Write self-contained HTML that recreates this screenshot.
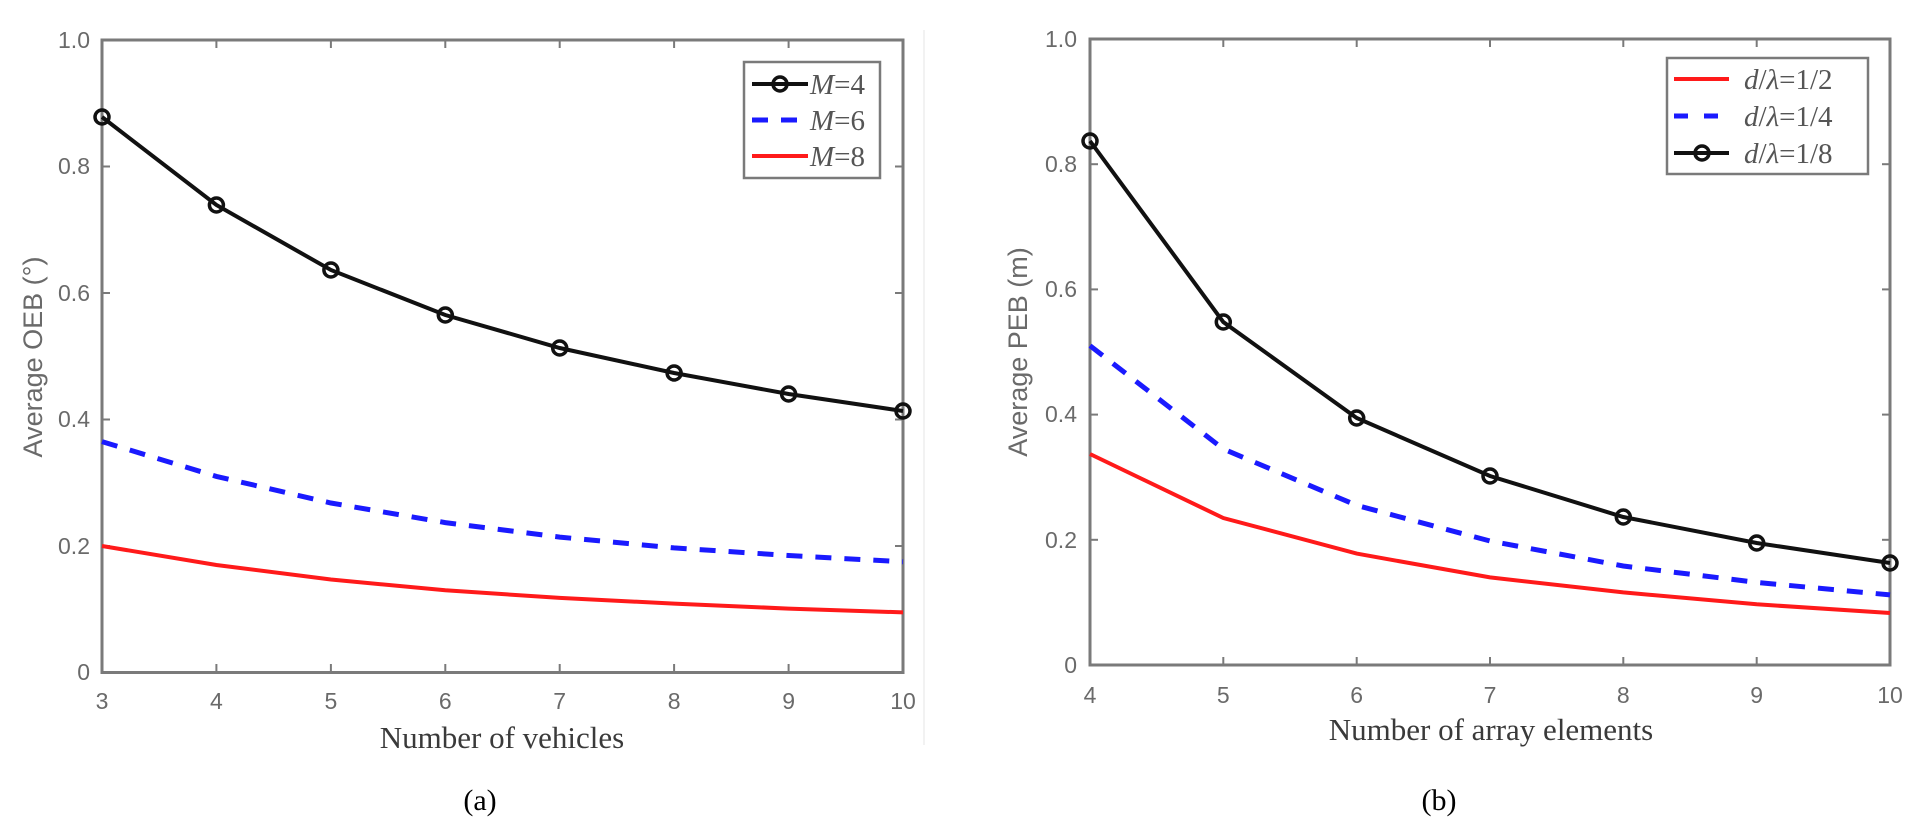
<!DOCTYPE html>
<html><head><meta charset="utf-8"><style>
body{margin:0;background:#fff;}
svg{display:block}
.t{font-family:"Liberation Sans",sans-serif;font-size:23px;fill:#6a6a6a}
.yl{font-family:"Liberation Sans",sans-serif;font-size:27px;fill:#6a6a6a}
.xl{font-family:"Liberation Serif",serif;font-size:31px;fill:#3a3a3a}
.cap{font-family:"Liberation Serif",serif;font-size:30px;fill:#000}
.lg{font-family:"Liberation Serif",serif;font-size:29px;fill:#555}
</style></head><body>
<svg width="1923" height="832" viewBox="0 0 1923 832" xmlns="http://www.w3.org/2000/svg">
<rect width="1923" height="832" fill="#fff"/>
<line x1="924" y1="30" x2="924" y2="745" stroke="#f2f2f2" stroke-width="2"/>
<g>
<rect x="102" y="40" width="801" height="632.5" fill="none" stroke="#7a7a7a" stroke-width="3"/>
<g stroke="#7a7a7a" stroke-width="2">
<line x1="216.4" y1="672" x2="216.4" y2="664"/><line x1="330.9" y1="672" x2="330.9" y2="664"/><line x1="445.3" y1="672" x2="445.3" y2="664"/><line x1="559.7" y1="672" x2="559.7" y2="664"/><line x1="674.1" y1="672" x2="674.1" y2="664"/><line x1="788.6" y1="672" x2="788.6" y2="664"/>
<line x1="216.4" y1="40" x2="216.4" y2="48"/><line x1="330.9" y1="40" x2="330.9" y2="48"/><line x1="445.3" y1="40" x2="445.3" y2="48"/><line x1="559.7" y1="40" x2="559.7" y2="48"/><line x1="674.1" y1="40" x2="674.1" y2="48"/><line x1="788.6" y1="40" x2="788.6" y2="48"/>
<line x1="102" y1="546" x2="110" y2="546"/><line x1="102" y1="419.5" x2="110" y2="419.5"/><line x1="102" y1="293" x2="110" y2="293"/><line x1="102" y1="166.5" x2="110" y2="166.5"/>
<line x1="903" y1="546" x2="895" y2="546"/><line x1="903" y1="419.5" x2="895" y2="419.5"/><line x1="903" y1="293" x2="895" y2="293"/><line x1="903" y1="166.5" x2="895" y2="166.5"/>
</g>
<g class="t" text-anchor="end">
<text x="90" y="680">0</text><text x="90" y="554">0.2</text><text x="90" y="427">0.4</text><text x="90" y="301">0.6</text><text x="90" y="174">0.8</text><text x="90" y="48">1.0</text>
</g>
<g class="t" text-anchor="middle">
<text x="102" y="709">3</text><text x="216.4" y="709">4</text><text x="330.9" y="709">5</text><text x="445.3" y="709">6</text><text x="559.7" y="709">7</text><text x="674.1" y="709">8</text><text x="788.6" y="709">9</text><text x="903" y="709">10</text>
</g>
<text class="yl" transform="translate(42,357) rotate(-90)" text-anchor="middle">Average OEB (°)</text>
<text class="xl" x="502" y="748" text-anchor="middle">Number of vehicles</text>
<polyline fill="none" stroke="#ff1a1a" stroke-width="4" points="102,546 216.4,565 330.9,579.5 445.3,590.3 559.7,597.9 674.1,603.6 788.6,608.6 903,612.4"/>
<polyline fill="none" stroke="#1a1aff" stroke-width="5" stroke-dasharray="16,13" points="102,441.6 216.4,476.4 330.9,503 445.3,522.6 559.7,537.1 674.1,547.9 788.6,555.5 903,561.8"/>
<polyline fill="none" stroke="#111" stroke-width="4" points="102,117 216.4,205 330.9,270 445.3,315 559.7,348 674.1,373 788.6,394 903,411"/>
<g fill="none" stroke="#111" stroke-width="3.5">
<circle cx="102" cy="117" r="7"/><circle cx="216.4" cy="205" r="7"/><circle cx="330.9" cy="270" r="7"/><circle cx="445.3" cy="315" r="7"/><circle cx="559.7" cy="348" r="7"/><circle cx="674.1" cy="373" r="7"/><circle cx="788.6" cy="394" r="7"/><circle cx="903" cy="411" r="7"/>
</g>
<rect x="744" y="62" width="136" height="116" fill="#fff" stroke="#7a7a7a" stroke-width="2.5"/>
<line x1="752" y1="84" x2="808" y2="84" stroke="#111" stroke-width="4"/><circle cx="780" cy="84" r="7" fill="none" stroke="#111" stroke-width="3.5"/>
<line x1="752" y1="120" x2="808" y2="120" stroke="#1a1aff" stroke-width="5" stroke-dasharray="16,13"/>
<line x1="752" y1="156" x2="808" y2="156" stroke="#ff1a1a" stroke-width="4"/>
<text class="lg" x="810" y="94"><tspan font-style="italic">M</tspan>=4</text>
<text class="lg" x="810" y="130"><tspan font-style="italic">M</tspan>=6</text>
<text class="lg" x="810" y="166"><tspan font-style="italic">M</tspan>=8</text>
</g>
<g>
<rect x="1090" y="39" width="800" height="626" fill="none" stroke="#7a7a7a" stroke-width="3"/>
<g stroke="#7a7a7a" stroke-width="2">
<line x1="1223.3" y1="665" x2="1223.3" y2="657"/><line x1="1356.7" y1="665" x2="1356.7" y2="657"/><line x1="1490" y1="665" x2="1490" y2="657"/><line x1="1623.3" y1="665" x2="1623.3" y2="657"/><line x1="1756.7" y1="665" x2="1756.7" y2="657"/>
<line x1="1223.3" y1="39" x2="1223.3" y2="47"/><line x1="1356.7" y1="39" x2="1356.7" y2="47"/><line x1="1490" y1="39" x2="1490" y2="47"/><line x1="1623.3" y1="39" x2="1623.3" y2="47"/><line x1="1756.7" y1="39" x2="1756.7" y2="47"/>
<line x1="1090" y1="539.8" x2="1098" y2="539.8"/><line x1="1090" y1="414.6" x2="1098" y2="414.6"/><line x1="1090" y1="289.4" x2="1098" y2="289.4"/><line x1="1090" y1="164.2" x2="1098" y2="164.2"/>
<line x1="1890" y1="539.8" x2="1882" y2="539.8"/><line x1="1890" y1="414.6" x2="1882" y2="414.6"/><line x1="1890" y1="289.4" x2="1882" y2="289.4"/><line x1="1890" y1="164.2" x2="1882" y2="164.2"/>
</g>
<g class="t" text-anchor="end">
<text x="1077" y="673">0</text><text x="1077" y="548">0.2</text><text x="1077" y="422">0.4</text><text x="1077" y="297">0.6</text><text x="1077" y="172">0.8</text><text x="1077" y="47">1.0</text>
</g>
<g class="t" text-anchor="middle">
<text x="1090" y="703">4</text><text x="1223.3" y="703">5</text><text x="1356.7" y="703">6</text><text x="1490" y="703">7</text><text x="1623.3" y="703">8</text><text x="1756.7" y="703">9</text><text x="1890" y="703">10</text>
</g>
<text class="yl" transform="translate(1027,352) rotate(-90)" text-anchor="middle">Average PEB (m)</text>
<text class="xl" x="1491" y="740" text-anchor="middle">Number of array elements</text>
<polyline fill="none" stroke="#ff1a1a" stroke-width="4" points="1090,454 1223.3,518 1356.7,553.6 1490,577.4 1623.3,592.4 1756.7,604.3 1890,613"/>
<polyline fill="none" stroke="#1a1aff" stroke-width="5" stroke-dasharray="16,13" points="1090,345.7 1223.3,449 1356.7,505.4 1490,541 1623.3,566 1756.7,582.4 1890,594.9"/>
<polyline fill="none" stroke="#111" stroke-width="4" points="1090,141 1223.3,322 1356.7,418 1490,476 1623.3,517 1756.7,543 1890,563"/>
<g fill="none" stroke="#111" stroke-width="3.5">
<circle cx="1090" cy="141" r="7"/><circle cx="1223.3" cy="322" r="7"/><circle cx="1356.7" cy="418" r="7"/><circle cx="1490" cy="476" r="7"/><circle cx="1623.3" cy="517" r="7"/><circle cx="1756.7" cy="543" r="7"/><circle cx="1890" cy="563" r="7"/>
</g>
<rect x="1667" y="58" width="201" height="116" fill="#fff" stroke="#7a7a7a" stroke-width="2.5"/>
<line x1="1674" y1="79" x2="1729" y2="79" stroke="#ff1a1a" stroke-width="4"/>
<line x1="1674" y1="116" x2="1729" y2="116" stroke="#1a1aff" stroke-width="5" stroke-dasharray="14,16"/>
<line x1="1674" y1="153" x2="1729" y2="153" stroke="#111" stroke-width="4"/><circle cx="1702" cy="153" r="7" fill="none" stroke="#111" stroke-width="3.5"/>
<text class="lg" x="1744" y="89"><tspan font-style="italic">d</tspan>/<tspan font-style="italic">λ</tspan>=1/2</text>
<text class="lg" x="1744" y="126"><tspan font-style="italic">d</tspan>/<tspan font-style="italic">λ</tspan>=1/4</text>
<text class="lg" x="1744" y="163"><tspan font-style="italic">d</tspan>/<tspan font-style="italic">λ</tspan>=1/8</text>
</g>
<text class="cap" x="480" y="810" text-anchor="middle">(a)</text>
<text class="cap" x="1439" y="810" text-anchor="middle">(b)</text>
</svg>
</body></html>
